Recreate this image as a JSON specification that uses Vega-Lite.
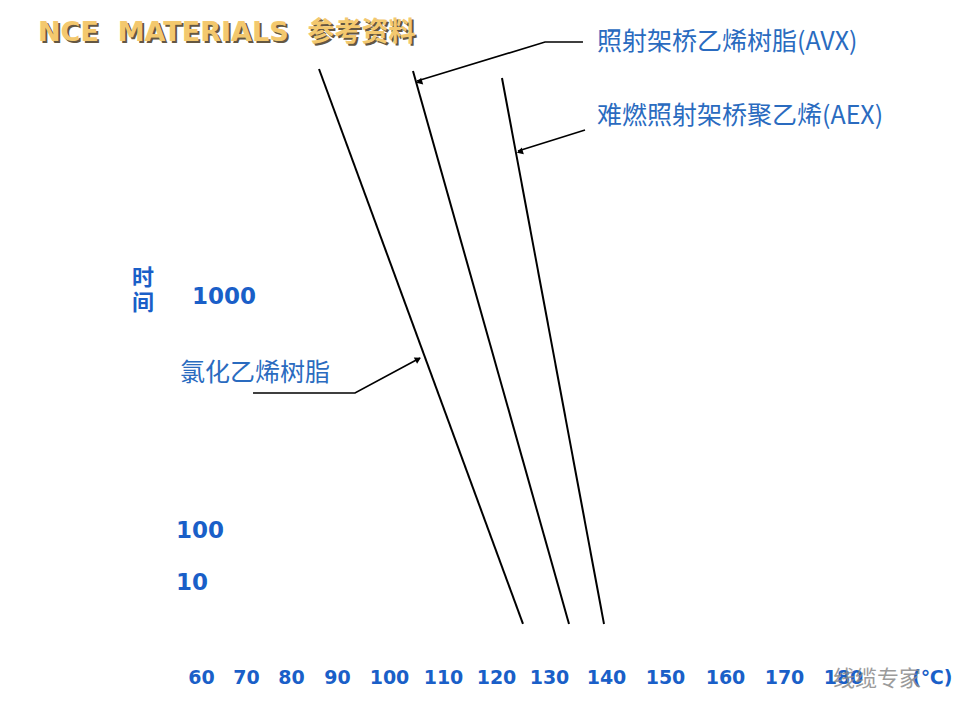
{
  "$schema": "https://vega.github.io/schema/vega-lite/v6.json",
  "width": 960,
  "height": 668,
  "padding": 0,
  "autosize": {"type": "pad"},
  "background": "white",
  "config": {"view": {"stroke": null}},
  "datasets": {
    "lines": [
      {"series": "PVC", "temp": 86.09, "time": 9428},
      {"series": "PVC", "temp": 125.09, "time": 1.63},
      {"series": "AVX", "temp": 104.44, "time": 9244},
      {"series": "AVX", "temp": 133.51, "time": 1.63},
      {"series": "AEX", "temp": 121.13, "time": 8628},
      {"series": "AEX", "temp": 139.65, "time": 1.63}
    ],
    "leaders": [
      {"series": "AVX", "temp": 135.96, "time": 12293},
      {"series": "AVX", "temp": 129.25, "time": 12293},
      {"series": "AVX", "temp": 105.19, "time": 8377},
      {"series": "AEX", "temp": 136.32, "time": 5172},
      {"series": "AEX", "temp": 124.15, "time": 4206},
      {"series": "PVC", "temp": 71.56, "time": 388.8},
      {"series": "PVC", "temp": 93.46, "time": 388.8},
      {"series": "PVC", "temp": 105.74, "time": 548.6}
    ],
    "heads": [
      {"series": "AVX", "temp": 105.6, "time": 8300},
      {"series": "AEX", "temp": 124.5, "time": 4170},
      {"series": "PVC", "temp": 105.4, "time": 542}
    ],
    "title": [
      {"label": "NCE\u00a0\u00a0MATERIALS\u00a0\u00a0参考资料", "temp": 23.78, "time": 13434}
    ],
    "notes": [
      {"label": "照射架桥乙烯树脂(AVX)", "temp": 138.42, "time": 12293},
      {"label": "难燃照射架桥聚乙烯(AEX)", "temp": 138.42, "time": 5934},
      {"label": "氯化乙烯树脂", "temp": 55.33, "time": 473.4}
    ],
    "ylabel": [
      {"label": "时", "temp": 47.1, "time": 1206},
      {"label": "间", "temp": 47.1, "time": 943}
    ],
    "yticks": [
      {"label": "1000", "temp": 58, "time": 1000},
      {"label": "100", "temp": 54.44, "time": 100},
      {"label": "10", "temp": 54.44, "time": 10}
    ],
    "watermark": [
      {"label": "线缆专家", "temp": 185.76, "time": 0.1426}
    ]
  },
  "encoding": {
    "x": {
      "field": "temp",
      "type": "quantitative",
      "scale": {
        "domain": [60, 70, 80, 90, 100, 110, 120, 130, 140, 150, 160, 170, 180],
        "range": [201, 246, 291, 337, 389, 443, 496, 549, 606, 665, 725, 784, 843],
        "nice": false,
        "zero": false
      },
      "axis": {
        "values": [60, 70, 80, 90, 100, 110, 120, 130, 140, 150, 160, 170, 180],
        "domain": false,
        "ticks": false,
        "tickSize": 0,
        "grid": false,
        "labelFont": "DejaVu Sans",
        "labelFontWeight": "bold",
        "labelFontSize": 19,
        "labelColor": "#1a5fc8",
        "labelPadding": 9,
        "labelBaseline": "middle",
        "labelFlush": false,
        "labelOverlap": false,
        "format": "d",
        "title": "(℃)",
        "titleX": 952,
        "titleY": 9,
        "titleAlign": "right",
        "titleBaseline": "middle",
        "titleFont": "DejaVu Sans",
        "titleFontWeight": "bold",
        "titleFontSize": 19,
        "titleColor": "#1a5fc8"
      }
    },
    "y": {
      "field": "time",
      "type": "quantitative",
      "scale": {
        "type": "log",
        "domain": [10, 100, 1000],
        "range": [583, 531, 297],
        "nice": false,
        "zero": false
      },
      "axis": null
    }
  },
  "layer": [
    {
      "data": {"name": "lines"},
      "mark": {"type": "line", "color": "black", "strokeWidth": 2},
      "encoding": {"detail": {"field": "series"}}
    },
    {
      "data": {"name": "leaders"},
      "mark": {"type": "line", "color": "black", "strokeWidth": 1.6},
      "encoding": {"detail": {"field": "series"}}
    },
    {
      "data": {"name": "heads"},
      "transform": [{"filter": "datum.series === 'AVX'"}],
      "mark": {"type": "point", "shape": "triangle-right", "filled": true, "color": "black", "opacity": 1, "size": 50, "angle": 163}
    },
    {
      "data": {"name": "heads"},
      "transform": [{"filter": "datum.series === 'AEX'"}],
      "mark": {"type": "point", "shape": "triangle-right", "filled": true, "color": "black", "opacity": 1, "size": 50, "angle": 163}
    },
    {
      "data": {"name": "heads"},
      "transform": [{"filter": "datum.series === 'PVC'"}],
      "mark": {"type": "point", "shape": "triangle-right", "filled": true, "color": "black", "opacity": 1, "size": 50, "angle": 332}
    },
    {
      "data": {"name": "title"},
      "mark": {"type": "text", "align": "left", "baseline": "middle", "font": "DejaVu Sans, Noto Sans CJK SC", "fontWeight": "bold", "fontSize": 27, "color": "#4a3a22", "opacity": 0.85, "dx": 2, "dy": 2},
      "encoding": {"text": {"field": "label"}}
    },
    {
      "data": {"name": "title"},
      "mark": {"type": "text", "align": "left", "baseline": "middle", "font": "DejaVu Sans, Noto Sans CJK SC", "fontWeight": "bold", "fontSize": 27, "color": "#f3c86e"},
      "encoding": {"text": {"field": "label"}}
    },
    {
      "data": {"name": "notes"},
      "mark": {"type": "text", "align": "left", "baseline": "middle", "font": "Noto Sans CJK SC", "fontSize": 25, "color": "#2a6bbf"},
      "encoding": {"text": {"field": "label"}}
    },
    {
      "data": {"name": "ylabel"},
      "mark": {"type": "text", "align": "center", "baseline": "middle", "font": "Noto Sans CJK SC", "fontWeight": "bold", "fontSize": 22, "color": "#1a5fc8"},
      "encoding": {"text": {"field": "label"}}
    },
    {
      "data": {"name": "yticks"},
      "mark": {"type": "text", "align": "left", "baseline": "middle", "font": "DejaVu Sans", "fontWeight": "bold", "fontSize": 23, "color": "#1a5fc8"},
      "encoding": {"text": {"field": "label"}}
    },
    {
      "data": {"name": "watermark"},
      "mark": {"type": "text", "align": "center", "baseline": "middle", "font": "Noto Sans CJK SC", "fontSize": 22, "color": "#8a8a8a", "opacity": 0.85},
      "encoding": {"text": {"field": "label"}}
    }
  ]
}
